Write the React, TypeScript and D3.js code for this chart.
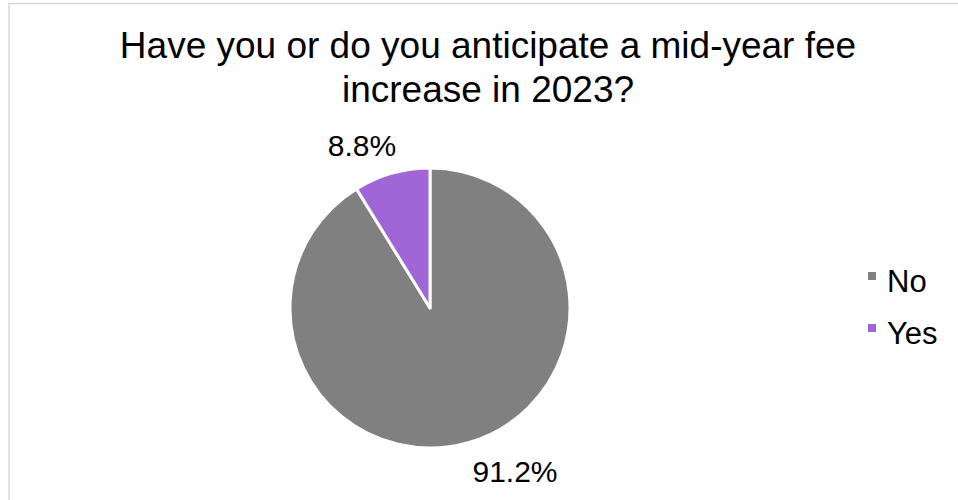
import React from "react";
import * as d3 from "d3";

const categories = ["No", "Yes"];
const values = [91.2, 8.8];
const labels = ["91.2%", "8.8%"];
const colors = ["#808080", "#a066d8"];
const titleLines = ["Have you or do you anticipate a mid-year fee", "increase in 2023?"];

const W = 958;
const H = 500;
const FONT = "'Liberation Sans', Arial, sans-serif";

export default function App() {
  const cx = 430;
  const cy = 308;
  const r = 140;
  const pie = d3.pie<number>().sort(null).value((d) => d);
  const arcs = pie(values);
  const arcGen = d3.arc<d3.PieArcDatum<number>>().innerRadius(0).outerRadius(r);
  const labelPos = [
    { x: 515, y: 482 },
    { x: 362, y: 156 },
  ];
  return (
    <div style={{ position: "fixed", left: 0, top: 0 }}>
      <svg width={W} height={H} style={{ display: "block", background: "#fff" }}>
        <rect x={9} y={3.5} width={1000} height={1000} fill="#fff" stroke="#d9d9d9" strokeWidth={1.5} />
        <g fontFamily={FONT} fill="#000">
          {titleLines.map((t, i) => (
            <text key={i} x={488} y={58 + i * 44} textAnchor="middle" fontSize={37}>
              {t}
            </text>
          ))}
        </g>
        <g transform={`translate(${cx},${cy})`}>
          {arcs.map((a, i) => (
            <path key={i} d={arcGen(a) || ""} fill={colors[i]} stroke="#fff" strokeWidth={3} strokeLinejoin="round" />
          ))}
        </g>
        <g fontFamily={FONT} fontSize={30} fill="#000">
          {labels.map((l, i) => (
            <text key={i} x={labelPos[i].x} y={labelPos[i].y} textAnchor="middle">
              {l}
            </text>
          ))}
        </g>
        <g fontFamily={FONT} fontSize={31}>
          {categories.map((c, i) => (
            <g key={c} transform={`translate(868,${272 + i * 52})`}>
              <rect x={0} y={0} width={8} height={8} fill={colors[i]} />
              <text x={19} y={20} fill="#000">
                {c}
              </text>
            </g>
          ))}
        </g>
      </svg>
    </div>
  );
}
